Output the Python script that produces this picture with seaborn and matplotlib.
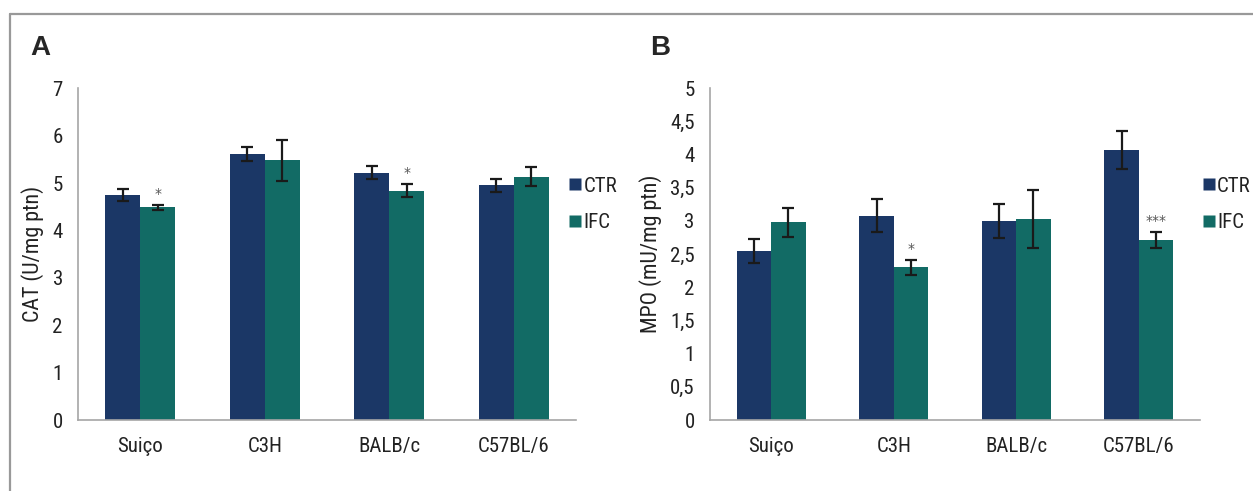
import numpy as np
import pandas as pd
import matplotlib
matplotlib.use('Agg')
import matplotlib.pyplot as plt
from matplotlib import font_manager
from matplotlib.lines import Line2D
import seaborn as sns

# ========== Dati ==========

ceppi = ['Suiço', 'C3H', 'BALB/c', 'C57BL/6']
gruppi = ['CTR', 'IFC']

cat_ctr = [4.75, 5.62, 5.22, 4.95]
cat_ifc = [4.49, 5.48, 4.84, 5.13]
cat_err_ctr = [0.12, 0.15, 0.13, 0.14]
cat_err_ifc = [0.05, 0.43, 0.14, 0.20]
cat_stelle = ['*', '', '*', '']
cat_yticks = [0, 1, 2, 3, 4, 5, 6, 7]
cat_ylabels = ['0', '1', '2', '3', '4', '5', '6', '7']

mpo_ctr = [2.55, 3.08, 3.00, 4.07]
mpo_ifc = [2.98, 2.30, 3.03, 2.71]
mpo_err_ctr = [0.18, 0.25, 0.25, 0.29]
mpo_err_ifc = [0.22, 0.11, 0.44, 0.12]
mpo_stelle = ['', '*', '', '***']
mpo_yticks = [0, 0.5, 1, 1.5, 2, 2.5, 3, 3.5, 4, 4.5, 5]
mpo_ylabels = ['0', '0,5', '1', '1,5', '2', '2,5', '3', '3,5', '4', '4,5', '5']

colori = {'CTR': '#1b3766', 'IFC': '#126b65'}
GRIGIO = '#a6a6a6'


# ========== Funzioni ==========

def trova_font_stretto():
    # cerca un carattere condensato tra quelli installati (stile Arial Narrow)
    fonts = font_manager.fontManager.ttflist
    preferiti = ['Liberation Sans Narrow', 'Roboto Condensed', 'Open Sans Condensed']
    nomi = {f.name for f in fonts}
    for p in preferiti:
        if p in nomi:
            return p, 'normal', 15
    for f in fonts:
        if f.name in ('Roboto', 'Open Sans', 'DejaVu Sans', 'Noto Sans') and \
                str(f.stretch) in ('condensed', 'semi-condensed', '500', '300'):
            if f.style == 'normal':
                return f.name, f.stretch, 14.5
    return 'Liberation Sans', 'normal', 13.5


def crea_dataframe(ctr, ifc, err_ctr, err_ifc):
    righe = []
    for i, c in enumerate(ceppi):
        righe.append({'Ceppo': c, 'Gruppo': 'CTR', 'Valore': ctr[i], 'Err': err_ctr[i]})
        righe.append({'Ceppo': c, 'Gruppo': 'IFC', 'Valore': ifc[i], 'Err': err_ifc[i]})
    return pd.DataFrame(righe)


def grafico_pannello(ax, df, stelle, yticks, ylabels, ylabel, legenda_x, fs):
    sns.barplot(data=df, x='Ceppo', y='Valore', hue='Gruppo', order=ceppi,
                hue_order=gruppi, palette=colori, width=0.56, errorbar=None,
                saturation=1, edgecolor='none', ax=ax, legend=False)

    # barre di errore sopra le colonne disegnate da seaborn
    for cont, g in zip(ax.containers, gruppi):
        sub = df[df['Gruppo'] == g].set_index('Ceppo').loc[ceppi]
        xs = [b.get_x() + b.get_width() / 2 for b in cont]
        hs = [b.get_height() for b in cont]
        ax.errorbar(xs, hs, yerr=sub['Err'].values, fmt='none', ecolor='#1a1a1a',
                    elinewidth=1.6, capsize=4, capthick=1.6, zorder=5)
        if g == 'IFC':
            for x, h, e, s in zip(xs, hs, sub['Err'].values, stelle):
                if s:
                    ax.annotate(s, (x, h + e), xytext=(0, 3), textcoords='offset points',
                                ha='center', va='bottom', fontsize=10, color='#555555',
                                family='DejaVu Sans')

    ax.set_ylim(yticks[0], yticks[-1])
    ax.set_xlim(-0.5, len(ceppi) - 0.5)
    ax.set_yticks(yticks)
    ax.set_yticklabels(ylabels)
    ax.set_xticks(range(len(ceppi)))
    ax.set_xticklabels(ceppi)
    ax.set_xticks(np.arange(-0.5, len(ceppi), 1), minor=True)
    ax.tick_params(axis='x', which='major', length=0, pad=12, labelsize=fs, labelcolor='#222222')
    ax.tick_params(axis='x', which='minor', length=5, color=GRIGIO, width=1)
    ax.tick_params(axis='y', length=5, color=GRIGIO, width=1, pad=6, labelsize=fs,
                   labelcolor='#222222')
    for lato in ['top', 'right']:
        ax.spines[lato].set_visible(False)
    for lato in ['left', 'bottom']:
        ax.spines[lato].set_color(GRIGIO)
        ax.spines[lato].set_linewidth(1.2)
    ax.set_xlabel('')
    ax.set_ylabel(ylabel, fontsize=fs + 0.8, labelpad=6, color='#222222')
    ax.grid(False)

    maniglie = [Line2D([], [], marker='s', linestyle='none', markersize=9,
                       markerfacecolor=colori[g], markeredgecolor='none') for g in gruppi]
    ax.legend(maniglie, gruppi, loc='center left', bbox_to_anchor=(legenda_x, 0.65),
              frameon=False, fontsize=fs, handletextpad=0.0, labelspacing=0.85,
              borderaxespad=0, handlelength=0.8, labelcolor='#222222')


# ========== Main ==========

def main():
    sns.set_theme(style='white')
    nome, stretch, fs = trova_font_stretto()
    plt.rcParams['font.family'] = [nome, 'Liberation Sans', 'DejaVu Sans']
    plt.rcParams['font.stretch'] = stretch

    fig = plt.figure(figsize=(12.53, 4.91), dpi=100)
    ax_a = fig.add_axes([0.0623, 0.1446, 0.3974, 0.6756])
    ax_b = fig.add_axes([0.5666, 0.1446, 0.3911, 0.6756])

    df_cat = crea_dataframe(cat_ctr, cat_ifc, cat_err_ctr, cat_err_ifc)
    df_mpo = crea_dataframe(mpo_ctr, mpo_ifc, mpo_err_ctr, mpo_err_ifc)

    grafico_pannello(ax_a, df_cat, cat_stelle, cat_yticks, cat_ylabels,
                     'CAT (U/mg ptn)', 0.965, fs)
    grafico_pannello(ax_b, df_mpo, mpo_stelle, mpo_yticks, mpo_ylabels,
                     'MPO (mU/mg ptn)', 0.984, fs)

    # lettere dei pannelli
    fig.text(30 / 1253, 1 - 48 / 491, 'A', fontsize=20, fontweight='bold',
             ha='left', va='center', family='Liberation Sans')
    fig.text(650 / 1253, 1 - 48 / 491, 'B', fontsize=20, fontweight='bold',
             ha='left', va='center', family='Liberation Sans')

    # cornice grigia
    fig.add_artist(Line2D([10 / 1253, 1.0], [1 - 14 / 491, 1 - 14 / 491],
                          color='#999999', linewidth=1.6, transform=fig.transFigure))
    fig.add_artist(Line2D([10 / 1253, 10 / 1253], [1 - 14 / 491, 0.0],
                          color='#999999', linewidth=1.6, transform=fig.transFigure))

    fig.savefig('out.png', dpi=100, facecolor='white')
    plt.close(fig)


if __name__ == "__main__":
    main()
